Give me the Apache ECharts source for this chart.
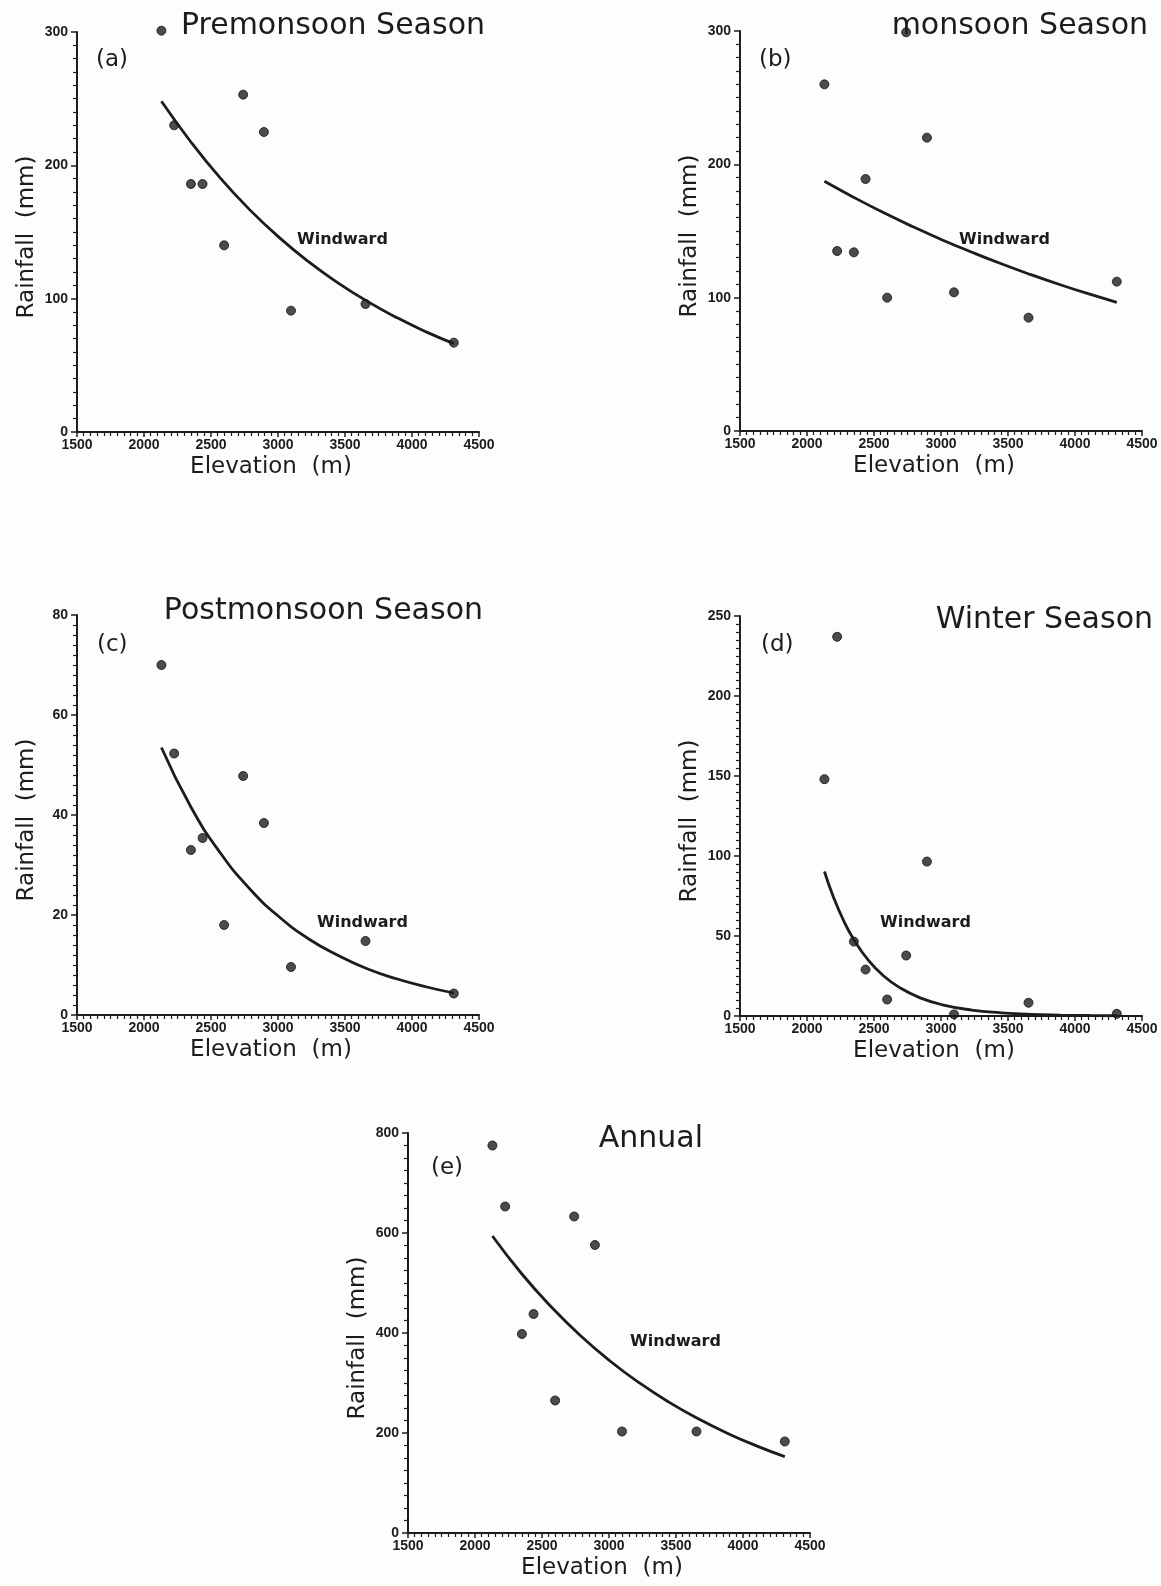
<!DOCTYPE html>
<html>
<head>
<meta charset="utf-8">
<title>Rainfall versus elevation</title>
<script src="https://cdn.jsdelivr.net/npm/echarts@6/dist/echarts.min.js"></script>
<style>
  html, body { margin: 0; padding: 0; background: #fdfdfb; }
  #chart { width: 1161px; height: 1586px; }
</style>
</head>
<body>
<div id="chart"></div>
<script>
// Station elevations (m), shared by every panel
const elevation = [2130, 2225, 2350, 2437, 2598, 2740, 2895, 3097, 3653, 4312];

// Seasonal and annual rainfall (mm) at each station
const premonsoon  = [301, 230, 186, 186, 140, 253, 225, 91, 96, 67];
const monsoon     = [260, 135, 134, 189, 100, 299, 220, 104, 85, 112];
const postmonsoon = [70, 52.3, 33, 35.4, 18, 47.8, 38.4, 9.6, 14.8, 4.3];
const winter      = [148, 237, 46.5, 29, 10.3, 37.8, 96.5, 1, 8.3, 1.4];
const annual      = [775, 653, 398, 438, 265, 633, 576, 203, 203, 183];

// Windward regression curves, sampled along elevation
const fitElevation   = [2130, 2350, 2570, 2790, 3010, 3230, 3450, 3670, 3890, 4110, 4312];
const premonsoonFit  = [248, 217.5, 190.4, 166.6, 145.8, 127.6, 111.7, 97.8, 85.6, 74.9, 66.3];
const monsoonFit     = [187.3, 175.2, 163.8, 153.2, 143.3, 134.1, 125.4, 117.3, 109.7, 102.6, 96.5];
const postmonsoonFit = [53.5, 41.6, 32.4, 25.2, 19.6, 15.2, 11.9, 9.2, 7.2, 5.6, 4.4];
const annualFit      = [594, 518, 452, 394, 343.5, 299.6, 261.3, 227.9, 198.7, 173.3, 152.8];
// The winter curve drops steeply, so it is sampled more closely at low elevation
const winterFitElevation = [2130, 2200, 2280, 2350, 2450, 2570, 2700, 2850, 3010, 3230, 3450, 3670, 3890, 4110, 4312];
const winterFit          = [90.3, 73.7, 58.4, 47.7, 35.7, 25.2, 17.3, 11.2, 7.0, 3.7, 2.0, 1.0, 0.55, 0.3, 0.16];

// Axis ranges
const xTicks = { min: 1500, max: 4500, step: 500 };
const yRanges = [
  { max: 300, step: 100, minor: 10 },
  { max: 300, step: 100, minor: 10 },
  { max: 80,  step: 20,  minor: 10 },
  { max: 250, step: 50,  minor: 10 },
  { max: 800, step: 200, minor: 8 }
];

const panelTitles = ['Premonsoon Season', 'monsoon Season', 'Postmonsoon Season', 'Winter Season', 'Annual'];
const panelTags = ['(a)', '(b)', '(c)', '(d)', '(e)'];
const curveLabel = 'Windward';
const observed = [premonsoon, monsoon, postmonsoon, winter, annual];
const fitX = [fitElevation, fitElevation, fitElevation, winterFitElevation, fitElevation];
const fitted = [premonsoonFit, monsoonFit, postmonsoonFit, winterFit, annualFit];

// Page layout of the five panels
const layout = [
  { left: 77,  top: 32,   title: [485, 26],   tag: [96, 60],    label: [297, 240] },
  { left: 740, top: 31,   title: [1148, 26],  tag: [759, 60],   label: [959, 240] },
  { left: 77,  top: 615,  title: [483, 611],  tag: [97, 645],   label: [317, 923] },
  { left: 740, top: 616,  title: [1153, 620], tag: [761, 645],  label: [880, 923] },
  { left: 408, top: 1133, title: [703, 1139], tag: [431, 1168], label: [630, 1342] }
];
const plotW = 402, plotH = 400;

const ink = '#1c1c1c';
const numFont = "'Liberation Sans', Arial, sans-serif";
const textFont = "'DejaVu Sans', sans-serif";

const grids = [], xAxes = [], yAxes = [], series = [], graphics = [];

layout.forEach((p, i) => {
  grids.push({ left: p.left, top: p.top, width: plotW, height: plotH, containLabel: false });

  xAxes.push({
    type: 'value', gridIndex: i,
    min: xTicks.min, max: xTicks.max, interval: xTicks.step,
    name: 'Elevation  (m)', nameLocation: 'middle', nameGap: 24,
    nameTextStyle: { fontFamily: textFont, fontSize: 23, color: ink, padding: [0, 14, 0, 0] },
    axisLine: { show: true, onZero: false, lineStyle: { color: ink, width: 2 } },
    axisTick: { show: true, inside: false, length: 5, lineStyle: { color: ink, width: 1.5 } },
    minorTick: { show: true, splitNumber: 10, length: 4, lineStyle: { color: ink, width: 1.2 } },
    axisLabel: { margin: 6, fontFamily: numFont, fontWeight: 'bold', fontSize: 14, color: ink,
                 formatter: v => String(v) },
    splitLine: { show: false }
  });

  const yr = yRanges[i];
  yAxes.push({
    type: 'value', gridIndex: i,
    min: 0, max: yr.max, interval: yr.step,
    name: 'Rainfall  (mm)', nameLocation: 'middle', nameGap: 38, nameRotate: 90,
    nameTextStyle: { fontFamily: textFont, fontSize: 23, color: ink, padding: [0, 10, 0, 0] },
    axisLine: { show: true, onZero: false, lineStyle: { color: ink, width: 2 } },
    axisTick: { show: true, inside: false, length: 6, lineStyle: { color: ink, width: 1.5 } },
    minorTick: { show: true, splitNumber: yr.minor, length: 4, lineStyle: { color: ink, width: 1.2 } },
    axisLabel: { margin: 9, fontFamily: numFont, fontWeight: 'bold', fontSize: 14, color: ink,
                 formatter: v => String(v) },
    splitLine: { show: false }
  });

  series.push({
    type: 'line', xAxisIndex: i, yAxisIndex: i,
    data: fitX[i].map((x, k) => [x, fitted[i][k]]),
    smooth: 0.5, showSymbol: false, symbol: 'none',
    lineStyle: { color: ink, width: 2.8 },
    silent: true, animation: false, z: 2
  });

  series.push({
    type: 'scatter', xAxisIndex: i, yAxisIndex: i,
    data: elevation.map((x, k) => [x, observed[i][k]]),
    symbol: 'circle', symbolSize: 9, clip: false,
    itemStyle: { color: '#1e1e1e', borderColor: '#111', borderWidth: 1 },
    silent: true, animation: false, z: 3
  });

  graphics.push({
    type: 'text', x: p.title[0], y: p.title[1],
    style: { text: panelTitles[i], fontFamily: textFont, fontSize: 30, fill: ink,
             align: 'right', verticalAlign: 'middle' }
  });
  graphics.push({
    type: 'text', x: p.tag[0], y: p.tag[1],
    style: { text: panelTags[i], fontFamily: textFont, fontSize: 23, fill: ink,
             align: 'left', verticalAlign: 'middle' }
  });
  graphics.push({
    type: 'text', x: p.label[0], y: p.label[1],
    style: { text: curveLabel, fontFamily: textFont, fontWeight: 'bold', fontSize: 16, fill: ink,
             align: 'left', verticalAlign: 'middle' }
  });
});

const chart = echarts.init(document.getElementById('chart'), null, { renderer: 'canvas' });
chart.setOption({
  backgroundColor: '#fdfdfb',
  animation: false,
  grid: grids,
  xAxis: xAxes,
  yAxis: yAxes,
  series: series,
  graphic: graphics
});
</script>
</body>
</html>
